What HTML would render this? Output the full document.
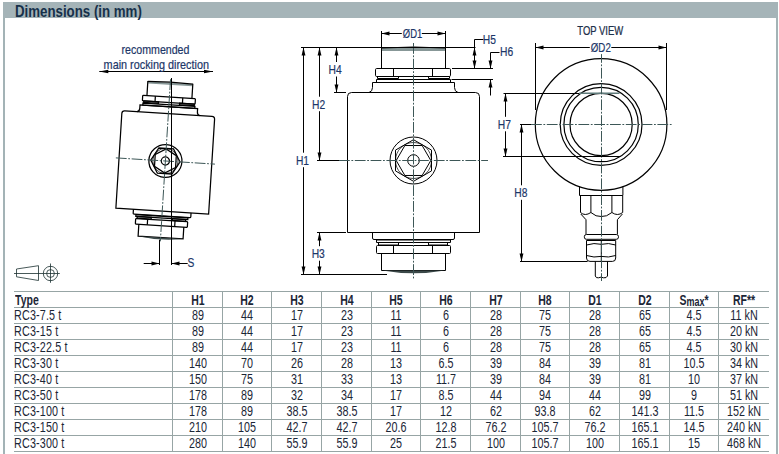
<!DOCTYPE html><html><head><meta charset="utf-8"><style>

*{margin:0;padding:0;box-sizing:border-box}
html,body{width:779px;height:454px;overflow:hidden;background:#fff}
body{position:relative;font-family:"Liberation Sans", sans-serif}
.a{position:absolute}
.t{position:absolute;white-space:nowrap;line-height:1;font-size:14px;color:#1b2636}
.c{transform-origin:center bottom}
.l{transform-origin:left bottom}
.b{font-weight:bold}
.lb{position:absolute;white-space:nowrap;line-height:1;color:#284a6c;font-size:12.5px}

</style></head><body>
<div class="a" style="left:3px;top:2px;width:2px;height:452px;background:#a3b3b6"></div>
<div class="a" style="left:776px;top:2px;width:2px;height:452px;background:#a3b3b6"></div>
<div class="a" style="left:3px;top:2px;width:775px;height:16px;background:#a5b4b8"></div>
<div class="t b l" style="left:14.8px;top:4.33px;font-size:15.8px;color:#16304a;transform:scaleX(0.84)">Dimensions (in mm)</div>
<div class="a" style="left:14px;top:291px;width:755px;height:1px;background:#97a5a5"></div>
<div class="a" style="left:14px;top:307px;width:755px;height:1px;background:#97a5a5"></div>
<div class="a" style="left:14px;top:323px;width:755px;height:1px;background:#97a5a5"></div>
<div class="a" style="left:14px;top:339px;width:755px;height:1px;background:#97a5a5"></div>
<div class="a" style="left:14px;top:355px;width:755px;height:1px;background:#97a5a5"></div>
<div class="a" style="left:14px;top:371px;width:755px;height:1px;background:#97a5a5"></div>
<div class="a" style="left:14px;top:387px;width:755px;height:1px;background:#97a5a5"></div>
<div class="a" style="left:14px;top:403px;width:755px;height:1px;background:#97a5a5"></div>
<div class="a" style="left:14px;top:419px;width:755px;height:1px;background:#97a5a5"></div>
<div class="a" style="left:14px;top:435px;width:755px;height:1px;background:#97a5a5"></div>
<div class="a" style="left:14px;top:451px;width:755px;height:1px;background:#97a5a5"></div>
<div class="a" style="left:172px;top:291px;width:1px;height:161px;background:#97a5a5"></div>
<div class="a" style="left:222px;top:291px;width:1px;height:161px;background:#97a5a5"></div>
<div class="a" style="left:271px;top:291px;width:1px;height:161px;background:#97a5a5"></div>
<div class="a" style="left:321px;top:291px;width:1px;height:161px;background:#97a5a5"></div>
<div class="a" style="left:371px;top:291px;width:1px;height:161px;background:#97a5a5"></div>
<div class="a" style="left:420px;top:291px;width:1px;height:161px;background:#97a5a5"></div>
<div class="a" style="left:470px;top:291px;width:1px;height:161px;background:#97a5a5"></div>
<div class="a" style="left:520px;top:291px;width:1px;height:161px;background:#97a5a5"></div>
<div class="a" style="left:569px;top:291px;width:1px;height:161px;background:#97a5a5"></div>
<div class="a" style="left:619px;top:291px;width:1px;height:161px;background:#97a5a5"></div>
<div class="a" style="left:669px;top:291px;width:1px;height:161px;background:#97a5a5"></div>
<div class="a" style="left:718px;top:291px;width:1px;height:161px;background:#97a5a5"></div>
<div class="t b l" style="left:14.8px;top:292.95px;transform:scaleX(0.75)">Type</div>
<div class="t b c" style="left:167.50px;top:292.95px;width:60px;text-align:center;transform:scaleX(0.75)">H1</div>
<div class="t b c" style="left:217.00px;top:292.95px;width:60px;text-align:center;transform:scaleX(0.75)">H2</div>
<div class="t b c" style="left:266.50px;top:292.95px;width:60px;text-align:center;transform:scaleX(0.75)">H3</div>
<div class="t b c" style="left:316.50px;top:292.95px;width:60px;text-align:center;transform:scaleX(0.75)">H4</div>
<div class="t b c" style="left:366.00px;top:292.95px;width:60px;text-align:center;transform:scaleX(0.75)">H5</div>
<div class="t b c" style="left:415.50px;top:292.95px;width:60px;text-align:center;transform:scaleX(0.75)">H6</div>
<div class="t b c" style="left:465.50px;top:292.95px;width:60px;text-align:center;transform:scaleX(0.75)">H7</div>
<div class="t b c" style="left:515.00px;top:292.95px;width:60px;text-align:center;transform:scaleX(0.75)">H8</div>
<div class="t b c" style="left:564.50px;top:292.95px;width:60px;text-align:center;transform:scaleX(0.75)">D1</div>
<div class="t b c" style="left:614.50px;top:292.95px;width:60px;text-align:center;transform:scaleX(0.75)">D2</div>
<div class="t b c" style="left:664.00px;top:292.95px;width:60px;text-align:center;transform:scaleX(0.75)">S<span style="font-size:12px;position:relative;top:1.3px">max</span>*</div>
<div class="t b c" style="left:714.00px;top:292.95px;width:60px;text-align:center;transform:scaleX(0.75)">RF**</div>
<div class="t l" style="left:14.0px;top:308.15px;transform:scaleX(0.77)"><span style="letter-spacing:0.2px">RC3-7.5 t</span></div>
<div class="t c" style="left:167.50px;top:308.15px;width:60px;text-align:center;transform:scaleX(0.77)">89</div>
<div class="t c" style="left:217.00px;top:308.15px;width:60px;text-align:center;transform:scaleX(0.77)">44</div>
<div class="t c" style="left:266.50px;top:308.15px;width:60px;text-align:center;transform:scaleX(0.77)">17</div>
<div class="t c" style="left:316.50px;top:308.15px;width:60px;text-align:center;transform:scaleX(0.77)">23</div>
<div class="t c" style="left:366.00px;top:308.15px;width:60px;text-align:center;transform:scaleX(0.77)">11</div>
<div class="t c" style="left:415.50px;top:308.15px;width:60px;text-align:center;transform:scaleX(0.77)">6</div>
<div class="t c" style="left:465.50px;top:308.15px;width:60px;text-align:center;transform:scaleX(0.77)">28</div>
<div class="t c" style="left:515.00px;top:308.15px;width:60px;text-align:center;transform:scaleX(0.77)">75</div>
<div class="t c" style="left:564.50px;top:308.15px;width:60px;text-align:center;transform:scaleX(0.77)">28</div>
<div class="t c" style="left:614.50px;top:308.15px;width:60px;text-align:center;transform:scaleX(0.77)">65</div>
<div class="t c" style="left:664.00px;top:308.15px;width:60px;text-align:center;transform:scaleX(0.77)">4.5</div>
<div class="t c" style="left:714.00px;top:308.15px;width:60px;text-align:center;transform:scaleX(0.77)">11 kN</div>
<div class="t l" style="left:14.0px;top:324.15px;transform:scaleX(0.77)"><span style="letter-spacing:0.2px">RC3-15 t</span></div>
<div class="t c" style="left:167.50px;top:324.15px;width:60px;text-align:center;transform:scaleX(0.77)">89</div>
<div class="t c" style="left:217.00px;top:324.15px;width:60px;text-align:center;transform:scaleX(0.77)">44</div>
<div class="t c" style="left:266.50px;top:324.15px;width:60px;text-align:center;transform:scaleX(0.77)">17</div>
<div class="t c" style="left:316.50px;top:324.15px;width:60px;text-align:center;transform:scaleX(0.77)">23</div>
<div class="t c" style="left:366.00px;top:324.15px;width:60px;text-align:center;transform:scaleX(0.77)">11</div>
<div class="t c" style="left:415.50px;top:324.15px;width:60px;text-align:center;transform:scaleX(0.77)">6</div>
<div class="t c" style="left:465.50px;top:324.15px;width:60px;text-align:center;transform:scaleX(0.77)">28</div>
<div class="t c" style="left:515.00px;top:324.15px;width:60px;text-align:center;transform:scaleX(0.77)">75</div>
<div class="t c" style="left:564.50px;top:324.15px;width:60px;text-align:center;transform:scaleX(0.77)">28</div>
<div class="t c" style="left:614.50px;top:324.15px;width:60px;text-align:center;transform:scaleX(0.77)">65</div>
<div class="t c" style="left:664.00px;top:324.15px;width:60px;text-align:center;transform:scaleX(0.77)">4.5</div>
<div class="t c" style="left:714.00px;top:324.15px;width:60px;text-align:center;transform:scaleX(0.77)">20 kN</div>
<div class="t l" style="left:14.0px;top:340.15px;transform:scaleX(0.77)"><span style="letter-spacing:0.2px">RC3-22.5 t</span></div>
<div class="t c" style="left:167.50px;top:340.15px;width:60px;text-align:center;transform:scaleX(0.77)">89</div>
<div class="t c" style="left:217.00px;top:340.15px;width:60px;text-align:center;transform:scaleX(0.77)">44</div>
<div class="t c" style="left:266.50px;top:340.15px;width:60px;text-align:center;transform:scaleX(0.77)">17</div>
<div class="t c" style="left:316.50px;top:340.15px;width:60px;text-align:center;transform:scaleX(0.77)">23</div>
<div class="t c" style="left:366.00px;top:340.15px;width:60px;text-align:center;transform:scaleX(0.77)">11</div>
<div class="t c" style="left:415.50px;top:340.15px;width:60px;text-align:center;transform:scaleX(0.77)">6</div>
<div class="t c" style="left:465.50px;top:340.15px;width:60px;text-align:center;transform:scaleX(0.77)">28</div>
<div class="t c" style="left:515.00px;top:340.15px;width:60px;text-align:center;transform:scaleX(0.77)">75</div>
<div class="t c" style="left:564.50px;top:340.15px;width:60px;text-align:center;transform:scaleX(0.77)">28</div>
<div class="t c" style="left:614.50px;top:340.15px;width:60px;text-align:center;transform:scaleX(0.77)">65</div>
<div class="t c" style="left:664.00px;top:340.15px;width:60px;text-align:center;transform:scaleX(0.77)">4.5</div>
<div class="t c" style="left:714.00px;top:340.15px;width:60px;text-align:center;transform:scaleX(0.77)">30 kN</div>
<div class="t l" style="left:14.0px;top:356.15px;transform:scaleX(0.77)"><span style="letter-spacing:0.2px">RC3-30 t</span></div>
<div class="t c" style="left:167.50px;top:356.15px;width:60px;text-align:center;transform:scaleX(0.77)">140</div>
<div class="t c" style="left:217.00px;top:356.15px;width:60px;text-align:center;transform:scaleX(0.77)">70</div>
<div class="t c" style="left:266.50px;top:356.15px;width:60px;text-align:center;transform:scaleX(0.77)">26</div>
<div class="t c" style="left:316.50px;top:356.15px;width:60px;text-align:center;transform:scaleX(0.77)">28</div>
<div class="t c" style="left:366.00px;top:356.15px;width:60px;text-align:center;transform:scaleX(0.77)">13</div>
<div class="t c" style="left:415.50px;top:356.15px;width:60px;text-align:center;transform:scaleX(0.77)">6.5</div>
<div class="t c" style="left:465.50px;top:356.15px;width:60px;text-align:center;transform:scaleX(0.77)">39</div>
<div class="t c" style="left:515.00px;top:356.15px;width:60px;text-align:center;transform:scaleX(0.77)">84</div>
<div class="t c" style="left:564.50px;top:356.15px;width:60px;text-align:center;transform:scaleX(0.77)">39</div>
<div class="t c" style="left:614.50px;top:356.15px;width:60px;text-align:center;transform:scaleX(0.77)">81</div>
<div class="t c" style="left:664.00px;top:356.15px;width:60px;text-align:center;transform:scaleX(0.77)">10.5</div>
<div class="t c" style="left:714.00px;top:356.15px;width:60px;text-align:center;transform:scaleX(0.77)">34 kN</div>
<div class="t l" style="left:14.0px;top:372.15px;transform:scaleX(0.77)"><span style="letter-spacing:0.2px">RC3-40 t</span></div>
<div class="t c" style="left:167.50px;top:372.15px;width:60px;text-align:center;transform:scaleX(0.77)">150</div>
<div class="t c" style="left:217.00px;top:372.15px;width:60px;text-align:center;transform:scaleX(0.77)">75</div>
<div class="t c" style="left:266.50px;top:372.15px;width:60px;text-align:center;transform:scaleX(0.77)">31</div>
<div class="t c" style="left:316.50px;top:372.15px;width:60px;text-align:center;transform:scaleX(0.77)">33</div>
<div class="t c" style="left:366.00px;top:372.15px;width:60px;text-align:center;transform:scaleX(0.77)">13</div>
<div class="t c" style="left:415.50px;top:372.15px;width:60px;text-align:center;transform:scaleX(0.77)">11.7</div>
<div class="t c" style="left:465.50px;top:372.15px;width:60px;text-align:center;transform:scaleX(0.77)">39</div>
<div class="t c" style="left:515.00px;top:372.15px;width:60px;text-align:center;transform:scaleX(0.77)">84</div>
<div class="t c" style="left:564.50px;top:372.15px;width:60px;text-align:center;transform:scaleX(0.77)">39</div>
<div class="t c" style="left:614.50px;top:372.15px;width:60px;text-align:center;transform:scaleX(0.77)">81</div>
<div class="t c" style="left:664.00px;top:372.15px;width:60px;text-align:center;transform:scaleX(0.77)">10</div>
<div class="t c" style="left:714.00px;top:372.15px;width:60px;text-align:center;transform:scaleX(0.77)">37 kN</div>
<div class="t l" style="left:14.0px;top:388.15px;transform:scaleX(0.77)"><span style="letter-spacing:0.2px">RC3-50 t</span></div>
<div class="t c" style="left:167.50px;top:388.15px;width:60px;text-align:center;transform:scaleX(0.77)">178</div>
<div class="t c" style="left:217.00px;top:388.15px;width:60px;text-align:center;transform:scaleX(0.77)">89</div>
<div class="t c" style="left:266.50px;top:388.15px;width:60px;text-align:center;transform:scaleX(0.77)">32</div>
<div class="t c" style="left:316.50px;top:388.15px;width:60px;text-align:center;transform:scaleX(0.77)">34</div>
<div class="t c" style="left:366.00px;top:388.15px;width:60px;text-align:center;transform:scaleX(0.77)">17</div>
<div class="t c" style="left:415.50px;top:388.15px;width:60px;text-align:center;transform:scaleX(0.77)">8.5</div>
<div class="t c" style="left:465.50px;top:388.15px;width:60px;text-align:center;transform:scaleX(0.77)">44</div>
<div class="t c" style="left:515.00px;top:388.15px;width:60px;text-align:center;transform:scaleX(0.77)">94</div>
<div class="t c" style="left:564.50px;top:388.15px;width:60px;text-align:center;transform:scaleX(0.77)">44</div>
<div class="t c" style="left:614.50px;top:388.15px;width:60px;text-align:center;transform:scaleX(0.77)">99</div>
<div class="t c" style="left:664.00px;top:388.15px;width:60px;text-align:center;transform:scaleX(0.77)">9</div>
<div class="t c" style="left:714.00px;top:388.15px;width:60px;text-align:center;transform:scaleX(0.77)">51 kN</div>
<div class="t l" style="left:14.0px;top:404.15px;transform:scaleX(0.77)"><span style="letter-spacing:0.2px">RC3-100 t</span></div>
<div class="t c" style="left:167.50px;top:404.15px;width:60px;text-align:center;transform:scaleX(0.77)">178</div>
<div class="t c" style="left:217.00px;top:404.15px;width:60px;text-align:center;transform:scaleX(0.77)">89</div>
<div class="t c" style="left:266.50px;top:404.15px;width:60px;text-align:center;transform:scaleX(0.77)">38.5</div>
<div class="t c" style="left:316.50px;top:404.15px;width:60px;text-align:center;transform:scaleX(0.77)">38.5</div>
<div class="t c" style="left:366.00px;top:404.15px;width:60px;text-align:center;transform:scaleX(0.77)">17</div>
<div class="t c" style="left:415.50px;top:404.15px;width:60px;text-align:center;transform:scaleX(0.77)">12</div>
<div class="t c" style="left:465.50px;top:404.15px;width:60px;text-align:center;transform:scaleX(0.77)">62</div>
<div class="t c" style="left:515.00px;top:404.15px;width:60px;text-align:center;transform:scaleX(0.77)">93.8</div>
<div class="t c" style="left:564.50px;top:404.15px;width:60px;text-align:center;transform:scaleX(0.77)">62</div>
<div class="t c" style="left:614.50px;top:404.15px;width:60px;text-align:center;transform:scaleX(0.77)">141.3</div>
<div class="t c" style="left:664.00px;top:404.15px;width:60px;text-align:center;transform:scaleX(0.77)">11.5</div>
<div class="t c" style="left:714.00px;top:404.15px;width:60px;text-align:center;transform:scaleX(0.77)">152 kN</div>
<div class="t l" style="left:14.0px;top:420.15px;transform:scaleX(0.77)"><span style="letter-spacing:0.2px">RC3-150 t</span></div>
<div class="t c" style="left:167.50px;top:420.15px;width:60px;text-align:center;transform:scaleX(0.77)">210</div>
<div class="t c" style="left:217.00px;top:420.15px;width:60px;text-align:center;transform:scaleX(0.77)">105</div>
<div class="t c" style="left:266.50px;top:420.15px;width:60px;text-align:center;transform:scaleX(0.77)">42.7</div>
<div class="t c" style="left:316.50px;top:420.15px;width:60px;text-align:center;transform:scaleX(0.77)">42.7</div>
<div class="t c" style="left:366.00px;top:420.15px;width:60px;text-align:center;transform:scaleX(0.77)">20.6</div>
<div class="t c" style="left:415.50px;top:420.15px;width:60px;text-align:center;transform:scaleX(0.77)">12.8</div>
<div class="t c" style="left:465.50px;top:420.15px;width:60px;text-align:center;transform:scaleX(0.77)">76.2</div>
<div class="t c" style="left:515.00px;top:420.15px;width:60px;text-align:center;transform:scaleX(0.77)">105.7</div>
<div class="t c" style="left:564.50px;top:420.15px;width:60px;text-align:center;transform:scaleX(0.77)">76.2</div>
<div class="t c" style="left:614.50px;top:420.15px;width:60px;text-align:center;transform:scaleX(0.77)">165.1</div>
<div class="t c" style="left:664.00px;top:420.15px;width:60px;text-align:center;transform:scaleX(0.77)">14.5</div>
<div class="t c" style="left:714.00px;top:420.15px;width:60px;text-align:center;transform:scaleX(0.77)">240 kN</div>
<div class="t l" style="left:14.0px;top:436.15px;transform:scaleX(0.77)"><span style="letter-spacing:0.2px">RC3-300 t</span></div>
<div class="t c" style="left:167.50px;top:436.15px;width:60px;text-align:center;transform:scaleX(0.77)">280</div>
<div class="t c" style="left:217.00px;top:436.15px;width:60px;text-align:center;transform:scaleX(0.77)">140</div>
<div class="t c" style="left:266.50px;top:436.15px;width:60px;text-align:center;transform:scaleX(0.77)">55.9</div>
<div class="t c" style="left:316.50px;top:436.15px;width:60px;text-align:center;transform:scaleX(0.77)">55.9</div>
<div class="t c" style="left:366.00px;top:436.15px;width:60px;text-align:center;transform:scaleX(0.77)">25</div>
<div class="t c" style="left:415.50px;top:436.15px;width:60px;text-align:center;transform:scaleX(0.77)">21.5</div>
<div class="t c" style="left:465.50px;top:436.15px;width:60px;text-align:center;transform:scaleX(0.77)">100</div>
<div class="t c" style="left:515.00px;top:436.15px;width:60px;text-align:center;transform:scaleX(0.77)">105.7</div>
<div class="t c" style="left:564.50px;top:436.15px;width:60px;text-align:center;transform:scaleX(0.77)">100</div>
<div class="t c" style="left:614.50px;top:436.15px;width:60px;text-align:center;transform:scaleX(0.77)">165.1</div>
<div class="t c" style="left:664.00px;top:436.15px;width:60px;text-align:center;transform:scaleX(0.77)">15</div>
<div class="t c" style="left:714.00px;top:436.15px;width:60px;text-align:center;transform:scaleX(0.77)">468 kN</div>
<svg class="a" style="left:0;top:0" width="779" height="454" viewBox="0 0 779 454" font-family="Liberation Sans, sans-serif">
<defs><g id="cell"><rect x="382" y="48" width="63" height="3" fill="#879797"/><path d="M381.5,48 Q413.5,46 445.5,48" fill="none" stroke="#000" vector-effect="non-scaling-stroke"/><path d="M381.5,47.5 V68.5 M445.5,47.5 V68.5" fill="none" stroke="#000" vector-effect="non-scaling-stroke"/><rect x="375.5" y="68.5" width="75" height="8" rx="1.2" fill="none" stroke="#000" vector-effect="non-scaling-stroke"/><path d="M393.5,68.5 V76.5 M432.5,68.5 V76.5" fill="none" stroke="#000" vector-effect="non-scaling-stroke"/><rect x="377.5" y="76.5" width="21" height="2" fill="none" stroke="#000" vector-effect="non-scaling-stroke"/><rect x="428.5" y="76.5" width="21" height="2" fill="none" stroke="#000" vector-effect="non-scaling-stroke"/><rect x="376.5" y="79.5" width="74" height="3" fill="none" stroke="#000" vector-effect="non-scaling-stroke"/><path d="M369,92.5 Q372.5,91.5 372.5,87.5 V82.5 H454.5 V87.5 Q454.5,91.5 458,92.5" fill="none" stroke="#000" vector-effect="non-scaling-stroke"/><path d="M347.5,232.5 V96.5 Q347.5,92.5 351.5,92.5 H475.5 Q479.5,92.5 479.5,96.5 V232.5 Z" fill="none" stroke="#000" vector-effect="non-scaling-stroke"/><path d="M372.5,232.5 V238 Q372.5,239.5 374,239.5 H453 Q454.5,239.5 454.5,238 V232.5" fill="none" stroke="#000" vector-effect="non-scaling-stroke"/><rect x="376.5" y="240" width="74" height="2.5" fill="none" stroke="#000" vector-effect="non-scaling-stroke"/><rect x="378.5" y="242.5" width="20" height="2.5" fill="none" stroke="#000" vector-effect="non-scaling-stroke"/><rect x="428.5" y="242.5" width="19" height="2.5" fill="none" stroke="#000" vector-effect="non-scaling-stroke"/><rect x="376.5" y="245.5" width="74" height="8" rx="1" fill="none" stroke="#000" vector-effect="non-scaling-stroke"/><path d="M393.5,245.5 V253.5 M432.5,245.5 V253.5" fill="none" stroke="#000" vector-effect="non-scaling-stroke"/><path d="M381.5,253.5 V270.5 H445.5 V253.5" fill="none" stroke="#000" vector-effect="non-scaling-stroke"/><path d="M382,270.5 Q413.5,276 445,270.5 Z" fill="#3a4848"/><circle cx="413.5" cy="160.5" r="23.5" fill="none" stroke="#000" vector-effect="non-scaling-stroke"/></g><g id="sockA"><polygon points="413.50,181.30 395.49,170.90 395.49,150.10 413.50,139.70 431.51,150.10 431.51,170.90" fill="none" stroke="#000" vector-effect="non-scaling-stroke"/><circle cx="413.5" cy="160.5" r="18" fill="none" stroke="#000" stroke-width="0.7" vector-effect="non-scaling-stroke"/><polygon points="430.80,160.50 422.15,175.48 404.85,175.48 396.20,160.50 404.85,145.52 422.15,145.52" fill="none" stroke="#000" vector-effect="non-scaling-stroke"/><circle cx="413.5" cy="160.5" r="5.8" fill="none" stroke="#000" vector-effect="non-scaling-stroke"/></g><g id="sockB"><polygon points="434.30,160.50 423.90,178.51 403.10,178.51 392.70,160.50 403.10,142.49 423.90,142.49" fill="none" stroke="#000" vector-effect="non-scaling-stroke"/><circle cx="413.5" cy="160.5" r="18" fill="none" stroke="#000" stroke-width="0.7" vector-effect="non-scaling-stroke"/><polygon points="413.50,177.80 398.52,169.15 398.52,151.85 413.50,143.20 428.48,151.85 428.48,169.15" fill="none" stroke="#000" vector-effect="non-scaling-stroke"/><circle cx="413.5" cy="160.5" r="5.8" fill="none" stroke="#000" vector-effect="non-scaling-stroke"/></g></defs>
<g stroke-width="1"><use href="#cell"/><use href="#sockA"/></g>
<line x1="413.5" y1="43" x2="413.5" y2="279" stroke="#3d5757" stroke-width="1" stroke-dasharray="10.8 1.6 1.8 1.6"/>
<line x1="339" y1="160.5" x2="488" y2="160.5" stroke="#3d5757" stroke-width="1" stroke-dasharray="10.8 1.6 1.8 1.6"/>
<line x1="301" y1="47.5" x2="475.5" y2="47.5" stroke="#000" stroke-width="1" />
<line x1="301" y1="274.5" x2="387" y2="274.5" stroke="#000" stroke-width="1" />
<line x1="317" y1="160.5" x2="339" y2="160.5" stroke="#000" stroke-width="1" />
<line x1="334" y1="92.5" x2="346" y2="92.5" stroke="#000" stroke-width="1" />
<line x1="317" y1="232.5" x2="346" y2="232.5" stroke="#000" stroke-width="1" />
<line x1="303.5" y1="47.5" x2="303.5" y2="274.5" stroke="#000" stroke-width="1" />
<polygon points="303.50,47.50 305.45,55.50 301.55,55.50" fill="#000"/>
<polygon points="303.50,274.50 301.55,266.50 305.45,266.50" fill="#000"/>
<line x1="319.5" y1="47.5" x2="319.5" y2="160.5" stroke="#000" stroke-width="1" />
<polygon points="319.50,47.50 321.45,55.50 317.55,55.50" fill="#000"/>
<polygon points="319.50,160.50 317.55,152.50 321.45,152.50" fill="#000"/>
<line x1="336.5" y1="47.5" x2="336.5" y2="92.5" stroke="#000" stroke-width="1" />
<polygon points="336.50,47.50 338.45,55.50 334.55,55.50" fill="#000"/>
<polygon points="336.50,92.50 334.55,84.50 338.45,84.50" fill="#000"/>
<line x1="319.5" y1="232.5" x2="319.5" y2="274.5" stroke="#000" stroke-width="1" />
<polygon points="319.50,232.50 321.45,240.50 317.55,240.50" fill="#000"/>
<polygon points="319.50,274.50 317.55,266.50 321.45,266.50" fill="#000"/>
<line x1="381.5" y1="31" x2="381.5" y2="47" stroke="#000" stroke-width="1" />
<line x1="445.5" y1="31" x2="445.5" y2="47" stroke="#000" stroke-width="1" />
<line x1="381.5" y1="33.5" x2="445.5" y2="33.5" stroke="#000" stroke-width="1" />
<polygon points="381.50,33.50 389.50,31.55 389.50,35.45" fill="#000"/>
<polygon points="445.50,33.50 437.50,35.45 437.50,31.55" fill="#000"/>
<line x1="452" y1="68.5" x2="493" y2="68.5" stroke="#000" stroke-width="1" />
<line x1="451.5" y1="79.5" x2="493" y2="79.5" stroke="#000" stroke-width="1" />
<path d="M474.5,68.5 V39.5 H483.5" fill="none" stroke="#000" stroke-width="1"/>
<polygon points="474.50,47.50 476.45,55.50 472.55,55.50" fill="#000"/>
<polygon points="474.50,68.50 472.55,60.50 476.45,60.50" fill="#000"/>
<path d="M490.5,68.5 V52.5 H499.5" fill="none" stroke="#000" stroke-width="1"/>
<line x1="490.5" y1="79.5" x2="490.5" y2="95.5" stroke="#000" stroke-width="1" />
<polygon points="490.50,68.50 488.55,60.50 492.45,60.50" fill="#000"/>
<polygon points="490.50,79.50 492.45,87.50 488.55,87.50" fill="#000"/>
<rect x="294.90000000000003" y="152.7" width="13.5" height="14.5" fill="#fff"/>
<text x="295.90000000000003" y="164.7" font-size="12.5" fill="#1c3668" stroke="#1c3668" stroke-width="0.2" transform="translate(295.90000000000003 0) scale(0.82 1) translate(-295.90000000000003 0)" text-anchor="start">H1</text>
<rect x="311.0" y="96.7" width="14.5" height="14.5" fill="#fff"/>
<text x="312.0" y="108.7" font-size="12.5" fill="#1c3668" stroke="#1c3668" stroke-width="0.2" transform="translate(312.0 0) scale(0.82 1) translate(-312.0 0)" text-anchor="start">H2</text>
<rect x="327.5" y="62" width="14.5" height="14.5" fill="#fff"/>
<text x="328.5" y="74" font-size="12.5" fill="#1c3668" stroke="#1c3668" stroke-width="0.2" transform="translate(328.5 0) scale(0.82 1) translate(-328.5 0)" text-anchor="start">H4</text>
<rect x="310.7" y="246.2" width="14.5" height="14.5" fill="#fff"/>
<text x="311.7" y="258.2" font-size="12.5" fill="#1c3668" stroke="#1c3668" stroke-width="0.2" transform="translate(311.7 0) scale(0.82 1) translate(-311.7 0)" text-anchor="start">H3</text>
<rect x="401.8" y="25.799999999999997" width="20" height="14.5" fill="#fff"/>
<text x="402.8" y="37.8" font-size="12.5" fill="#1c3668" stroke="#1c3668" stroke-width="0.2" transform="translate(402.8 0) scale(0.76 1) translate(-402.8 0)" text-anchor="start">ØD1</text>
<text x="482.8" y="43.9" font-size="12.5" fill="#1c3668" stroke="#1c3668" stroke-width="0.2" transform="translate(482.8 0) scale(0.82 1) translate(-482.8 0)" text-anchor="start">H5</text>
<text x="500.1" y="55.8" font-size="12.5" fill="#1c3668" stroke="#1c3668" stroke-width="0.2" transform="translate(500.1 0) scale(0.82 1) translate(-500.1 0)" text-anchor="start">H6</text>
<circle cx="601.1" cy="124.5" r="65.8" fill="none" stroke="#000" stroke-width="1.2"/>
<circle cx="601.1" cy="124.5" r="40.9" fill="none" stroke="#000" stroke-width="1.2"/>
<circle cx="601.1" cy="124.5" r="37.2" fill="none" stroke="#000" stroke-width="1.2"/>
<circle cx="601.1" cy="124.5" r="31.1" fill="none" stroke="#000" stroke-width="1.2"/>
<path d="M579,93.3 H619.5" stroke="#5f7b7b" stroke-width="1.6"/>
<path d="M579.5,186.5 V195.5 H622.9 V186.5" fill="none" stroke="#000" stroke-width="1"/>
<path d="M580.5,196 V212.5 Q585,216.5 590.9,212.5 Q596,217 601.3,216.5 Q606.5,217 611.9,212.5 Q617.5,216.5 622.7,212.5 V196" fill="none" stroke="#000" stroke-width="1"/>
<path d="M590.9,196 V212.5 M611.9,196 V212.5" fill="none" stroke="#000" stroke-width="1"/>
<path d="M580.8,214 L586,219.7 V234.3 M622.4,214 L617.4,219.7 V234.3" fill="none" stroke="#000" stroke-width="1"/>
<rect x="584.3" y="234.5" width="34.2" height="4.8" rx="2.2" fill="none" stroke="#000" stroke-width="1"/>
<path d="M586.5,240.5 V258 Q586.5,261.4 590,261.4 H612.5 Q615.7,261.4 615.7,258 V240.5 Z" fill="none" stroke="#000" stroke-width="1"/>
<path d="M586.5,245 Q594,242.5 601.3,244.3 Q608.5,242.5 615.7,245 M586.5,255.5 Q594,258 601.3,256.4 Q608.5,258 615.7,255.5 M601.3,240.5 V261.4" fill="none" stroke="#000" stroke-width="1"/>
<path d="M595.3,261.4 V276 Q596,278.3 598.5,277.8 Q601,276.5 603.5,277.8 Q606.5,278.3 607.5,276 V261.4" fill="none" stroke="#000" stroke-width="1"/>
<line x1="601.5" y1="52" x2="601.5" y2="281" stroke="#3d5757" stroke-width="1" stroke-dasharray="10.8 1.6 1.8 1.6"/>
<line x1="531" y1="124.5" x2="673" y2="124.5" stroke="#3d5757" stroke-width="1" stroke-dasharray="10.8 1.6 1.8 1.6"/>
<line x1="535.5" y1="43" x2="535.5" y2="110" stroke="#000" stroke-width="1" />
<line x1="666.5" y1="43" x2="666.5" y2="110" stroke="#000" stroke-width="1" />
<line x1="535.5" y1="47.5" x2="666.5" y2="47.5" stroke="#000" stroke-width="1" />
<polygon points="535.50,47.50 543.50,45.55 543.50,49.45" fill="#000"/>
<polygon points="666.50,47.50 658.50,49.45 658.50,45.55" fill="#000"/>
<rect x="589.8" y="39.6" width="21.5" height="14.5" fill="#fff"/>
<text x="590.8" y="51.6" font-size="12.5" fill="#1c3668" stroke="#1c3668" stroke-width="0.2" transform="translate(590.8 0) scale(0.78 1) translate(-590.8 0)" text-anchor="start">ØD2</text>
<text x="577.3" y="34.9" font-size="12" fill="#1d3048" stroke="#1d3050" stroke-width="0.25" transform="translate(577.3 0) scale(0.79 1) translate(-577.3 0)">TOP VIEW</text>
<line x1="503.5" y1="93.5" x2="579" y2="93.5" stroke="#000" stroke-width="1" />
<line x1="503" y1="156.5" x2="620.5" y2="156.5" stroke="#000" stroke-width="1" />
<line x1="505.5" y1="93.5" x2="505.5" y2="156.5" stroke="#000" stroke-width="1" />
<polygon points="505.50,93.50 507.45,101.50 503.55,101.50" fill="#000"/>
<polygon points="505.50,156.50 503.55,148.50 507.45,148.50" fill="#000"/>
<rect x="496.8" y="116.80000000000001" width="14.8" height="14.5" fill="#fff"/>
<text x="497.8" y="128.8" font-size="12.5" fill="#1c3668" stroke="#1c3668" stroke-width="0.2" transform="translate(497.8 0) scale(0.82 1) translate(-497.8 0)" text-anchor="start">H7</text>
<line x1="520" y1="124.5" x2="531" y2="124.5" stroke="#000" stroke-width="1" />
<line x1="520" y1="261.5" x2="587.6" y2="261.5" stroke="#000" stroke-width="1" />
<line x1="521.5" y1="124.5" x2="521.5" y2="261.5" stroke="#000" stroke-width="1" />
<polygon points="521.50,124.50 523.45,132.50 519.55,132.50" fill="#000"/>
<polygon points="521.50,261.50 519.55,253.50 523.45,253.50" fill="#000"/>
<rect x="513.3" y="185.3" width="15" height="14.5" fill="#fff"/>
<text x="514.3" y="197.3" font-size="12.5" fill="#1c3668" stroke="#1c3668" stroke-width="0.2" transform="translate(514.3 0) scale(0.82 1) translate(-514.3 0)" text-anchor="start">H8</text>
<g transform="translate(165.4 161) rotate(3.6) scale(0.704 0.697) translate(-413.5 -160.5)" stroke-width="1.25"><use href="#cell"/><use href="#sockB"/>
<line x1="413.5" y1="43" x2="413.5" y2="276" stroke="#3d5757" stroke-width="1" vector-effect="non-scaling-stroke" stroke-dasharray="10.8 1.6 1.8 1.6"/>
<line x1="343" y1="160.5" x2="484" y2="160.5" stroke="#3d5757" stroke-width="1" vector-effect="non-scaling-stroke" stroke-dasharray="10.8 1.6 1.8 1.6"/>
</g>
<line x1="171.5" y1="78" x2="171.5" y2="265" stroke="#000" stroke-width="1" />
<line x1="159.5" y1="239.7" x2="159.5" y2="265" stroke="#000" stroke-width="1" />
<line x1="143.7" y1="263.5" x2="159.5" y2="263.5" stroke="#000" stroke-width="1" />
<polygon points="159.50,263.50 151.50,265.45 151.50,261.55" fill="#000"/>
<line x1="171.5" y1="263.5" x2="187.7" y2="263.5" stroke="#000" stroke-width="1" />
<polygon points="171.50,263.50 179.50,261.55 179.50,265.45" fill="#000"/>
<text x="187.5" y="266.9" font-size="12.5" fill="#1c3668" stroke="#1c3668" stroke-width="0.2" transform="translate(187.5 0) scale(0.82 1) translate(-187.5 0)" text-anchor="start">S</text>
<line x1="99.3" y1="71.5" x2="213" y2="71.5" stroke="#000" stroke-width="1" />
<polygon points="99.30,71.50 108.30,69.70 108.30,73.30" fill="#000"/>
<polygon points="213.00,71.50 204.00,73.30 204.00,69.70" fill="#000"/>
<text x="155.5" y="53.9" font-size="12.5" fill="#1c3668" stroke="#1c3668" stroke-width="0.2" text-anchor="middle" transform="translate(155.5 0) scale(0.85 1) translate(-155.5 0)">recommended</text>
<text x="156.3" y="68.9" font-size="12.5" fill="#1c3668" stroke="#1c3668" stroke-width="0.2" text-anchor="middle" transform="translate(156.3 0) scale(0.868 1) translate(-156.3 0)">main rocking direction</text>
<path d="M16.5,269 L38.5,265.7 V280.5 L16.5,276.8 Z" fill="none" stroke="#1a3030" stroke-width="0.8"/>
<line x1="14" y1="273.5" x2="59.8" y2="273.5" stroke="#1a3030" stroke-width="0.8" />
<line x1="50.5" y1="263.5" x2="50.5" y2="282.8" stroke="#1a3030" stroke-width="0.8" />
<circle cx="50.5" cy="273.5" r="7.2" fill="none" stroke="#1a3030" stroke-width="0.8"/>
<circle cx="50.5" cy="273.5" r="3.9" fill="none" stroke="#1a3030" stroke-width="0.8"/>
</svg>
</body></html>
